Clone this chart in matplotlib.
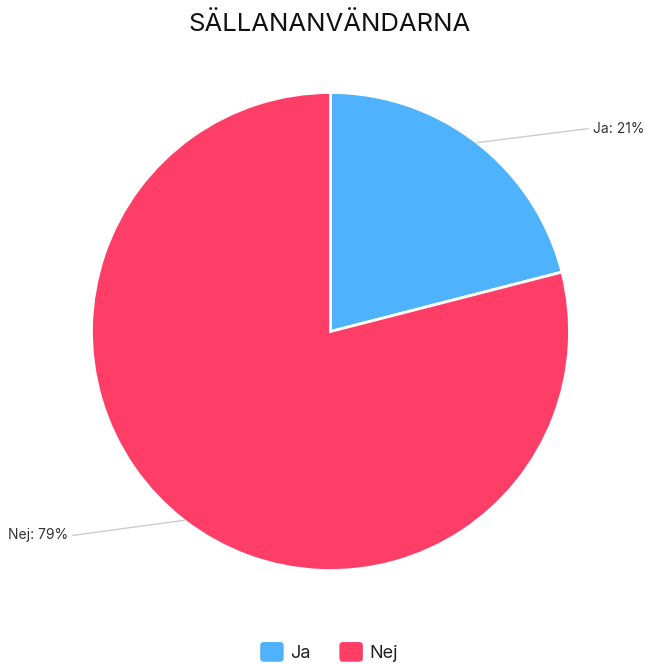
import matplotlib
matplotlib.use("Agg")
import matplotlib.pyplot as plt
from matplotlib.patches import Patch, FancyBboxPatch
from matplotlib.legend_handler import HandlerPatch
import numpy as np

title = "SÄLLANANVÄNDARNA"
categories = ["Ja", "Nej"]
values = [21, 79]
colors = ["#4FB2FC", "#FF3E68"]

plt.rcParams['font.family'] = ['Inter', 'DejaVu Sans']

W, H = 646, 664
fig = plt.figure(figsize=(W / 100, H / 100), dpi=100)
ax = fig.add_axes([0, 0, 1, 1])

cx, cy, r = 330.5, H - 331.5, 239
wedges, _ = ax.pie(values, colors=colors, startangle=90, counterclock=False,
                   center=(cx, cy), radius=r,
                   wedgeprops=dict(edgecolor='white', linewidth=2))
ax.set_xlim(0, W)
ax.set_ylim(0, H)
ax.set_aspect('equal')
ax.axis('off')

total = sum(values)
start = 90.0
for v, lab in zip(values, categories):
    sweep = 360.0 * v / total
    mid = np.deg2rad(start - sweep / 2)
    px = cx + r * np.cos(mid)
    py = cy + r * np.sin(mid)
    if np.cos(mid) >= 0:
        ex, ey = px + 111, py + 14
        ax.plot([px, ex], [py, ey], color='#cccccc', lw=1)
        ax.text(ex + 5, ey, f"{lab}: {v}%", ha='left', va='center', fontsize=10, color='#333333')
    else:
        ex, ey = px - 111, py - 15
        ax.plot([px, ex], [py, ey], color='#cccccc', lw=1)
        ax.text(ex - 5, ey, f"{lab}: {v}%", ha='right', va='center', fontsize=10, color='#333333')
    start -= sweep

ax.text(330, H - 24, title, ha='center', va='center', fontsize=18.5, color='#111111')


class RoundHandler(HandlerPatch):
    def create_artists(self, legend, orig_handle, xdescent, ydescent, width, height, fontsize, trans):
        p = FancyBboxPatch((-xdescent, -ydescent), width, height,
                           boxstyle="round,pad=0,rounding_size=%f" % (width * 0.15),
                           facecolor=orig_handle.get_facecolor(), edgecolor='none',
                           transform=trans)
        return [p]


handles = [Patch(facecolor=c, edgecolor='none') for c in colors]
fig.legend(handles, categories, loc='center', bbox_to_anchor=(329 / W, 1 - 652 / H),
           ncol=2, frameon=False, fontsize=13, handlelength=1.3, handleheight=1.3,
           handletextpad=0.35, columnspacing=1.6, labelcolor='#222222',
           handler_map={Patch: RoundHandler()})

fig.savefig("out.png", dpi=100)
